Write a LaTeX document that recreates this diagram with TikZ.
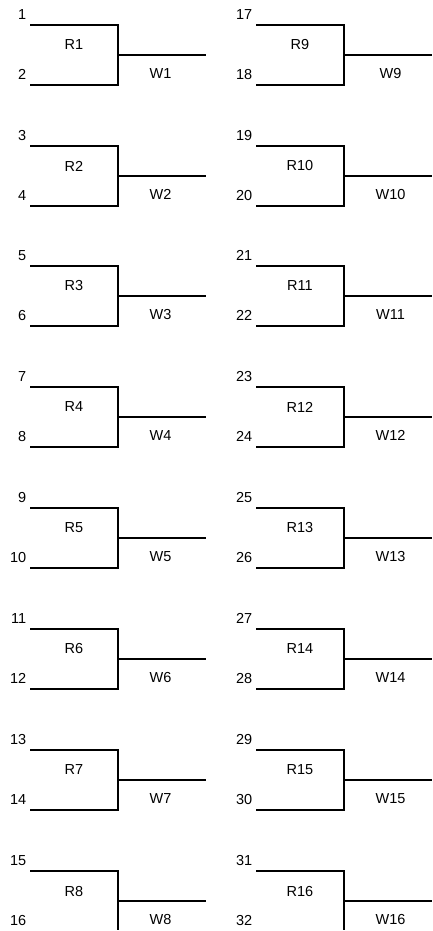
\documentclass[tikz,border=0pt]{standalone}
\usepackage{fontspec}
\setmainfont{Liberation Sans}
\begin{document}
\begin{tikzpicture}[x=1pt,y=-1pt,
  bracket/.style={line width=1.9pt},
  lbl/.style={font=\fontsize{14.5}{17}\selectfont, inner sep=0pt},
  seed/.style={lbl, anchor=base east},
  rnd/.style={lbl, anchor=center},
  win/.style={lbl, anchor=center}]
\useasboundingbox (0,0) rectangle (432,931);
\clip (0,0) rectangle (432,929);
\foreach \c in {0,1} {
  \foreach \r in {0,...,7} {
    \pgfmathtruncatemacro{\m}{\c*8+\r+1}
    \pgfmathtruncatemacro{\sa}{2*\m-1}
    \pgfmathtruncatemacro{\sb}{2*\m}
    \pgfmathtruncatemacro{\yy}{round(24.7+\r*120.9)}
    \pgfmathtruncatemacro{\xx}{\c*226}
    \pgfmathsetmacro{\wx}{160.5+4*\c}
    \begin{scope}[shift={(\xx,\yy)}]
      \coordinate (t\m) at (30,0);
      \coordinate (c\m) at (118,0);
      \coordinate (d\m) at (118,60);
      \coordinate (b\m) at (30,60);
      \coordinate (m\m) at (118,30);
      \coordinate (e\m) at (206,30);
      \draw[bracket] (t\m) -- (c\m) -- (d\m) -- (b\m);
      \draw[bracket] (m\m) -- (e\m);
      \node[seed] (s\sa) at (26.5,-5.6) {\sa};
      \node[seed] (s\sb) at (26.5,54.4) {\sb};
      \node[rnd] (r\m) at (74,20) {R\m};
      \node[win] (w\m) at (\wx,48.7) {W\m};
    \end{scope}
  }
}
\end{tikzpicture}
\end{document}
